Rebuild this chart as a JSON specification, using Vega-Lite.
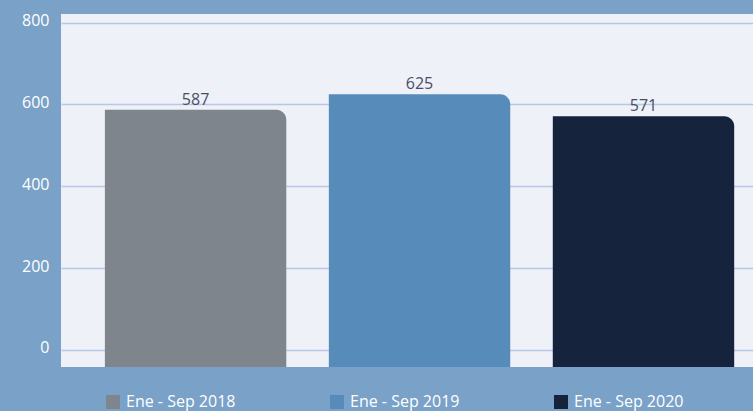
{
  "$schema": "https://vega.github.io/schema/vega-lite/v6.json",
  "width": 692,
  "height": 353,
  "autosize": {"type": "none"},
  "padding": {"left": 61, "top": 14, "right": 0, "bottom": 44},
  "background": "#7aa1c7",
  "config": {
    "view": {"fill": "#eef1f8", "stroke": null},
    "font": "Open Sans"
  },
  "data": {
    "values": [
      {"periodo": "Ene - Sep 2018", "valor": 587},
      {"periodo": "Ene - Sep 2019", "valor": 625},
      {"periodo": "Ene - Sep 2020", "valor": 571}
    ]
  },
  "encoding": {
    "x": {
      "field": "periodo",
      "type": "nominal",
      "sort": null,
      "scale": {"paddingInner": 0.19, "paddingOuter": 0.14, "align": 0.7},
      "axis": null
    }
  },
  "layer": [
    {
      "mark": {"type": "bar", "cornerRadiusTopRight": 10},
      "encoding": {
        "y": {
          "field": "valor",
          "type": "quantitative",
          "scale": {"domain": [-41.6, 821], "nice": false, "zero": false},
          "axis": {
            "values": [0, 200, 400, 600, 800],
            "title": null,
            "domain": false,
            "ticks": false,
            "labelColor": "white",
            "labelFontSize": 16,
            "labelPadding": 12,
            "labelOffset": -2,
            "gridColor": "#b8c7e3",
            "gridWidth": 1.3
          }
        },
        "y2": {"datum": -41.6},
        "color": {
          "field": "periodo",
          "type": "nominal",
          "sort": null,
          "scale": {"range": ["#7e858c", "#578bba", "#16233d"]},
          "legend": {
            "orient": "none",
            "legendX": 44,
            "legendY": 380,
            "direction": "horizontal",
            "columns": 3,
            "title": null,
            "symbolType": "square",
            "symbolSize": 196,
            "symbolStrokeWidth": 0,
            "symbolOpacity": 1,
            "labelColor": "white",
            "labelFontSize": 16,
            "labelOffset": 5,
            "columnPadding": 93
          }
        }
      }
    },
    {
      "mark": {"type": "text", "dy": -10, "fontSize": 16, "color": "#4a4e63", "baseline": "middle"},
      "encoding": {
        "y": {"field": "valor", "type": "quantitative"},
        "text": {"field": "valor", "type": "quantitative"}
      }
    }
  ]
}
